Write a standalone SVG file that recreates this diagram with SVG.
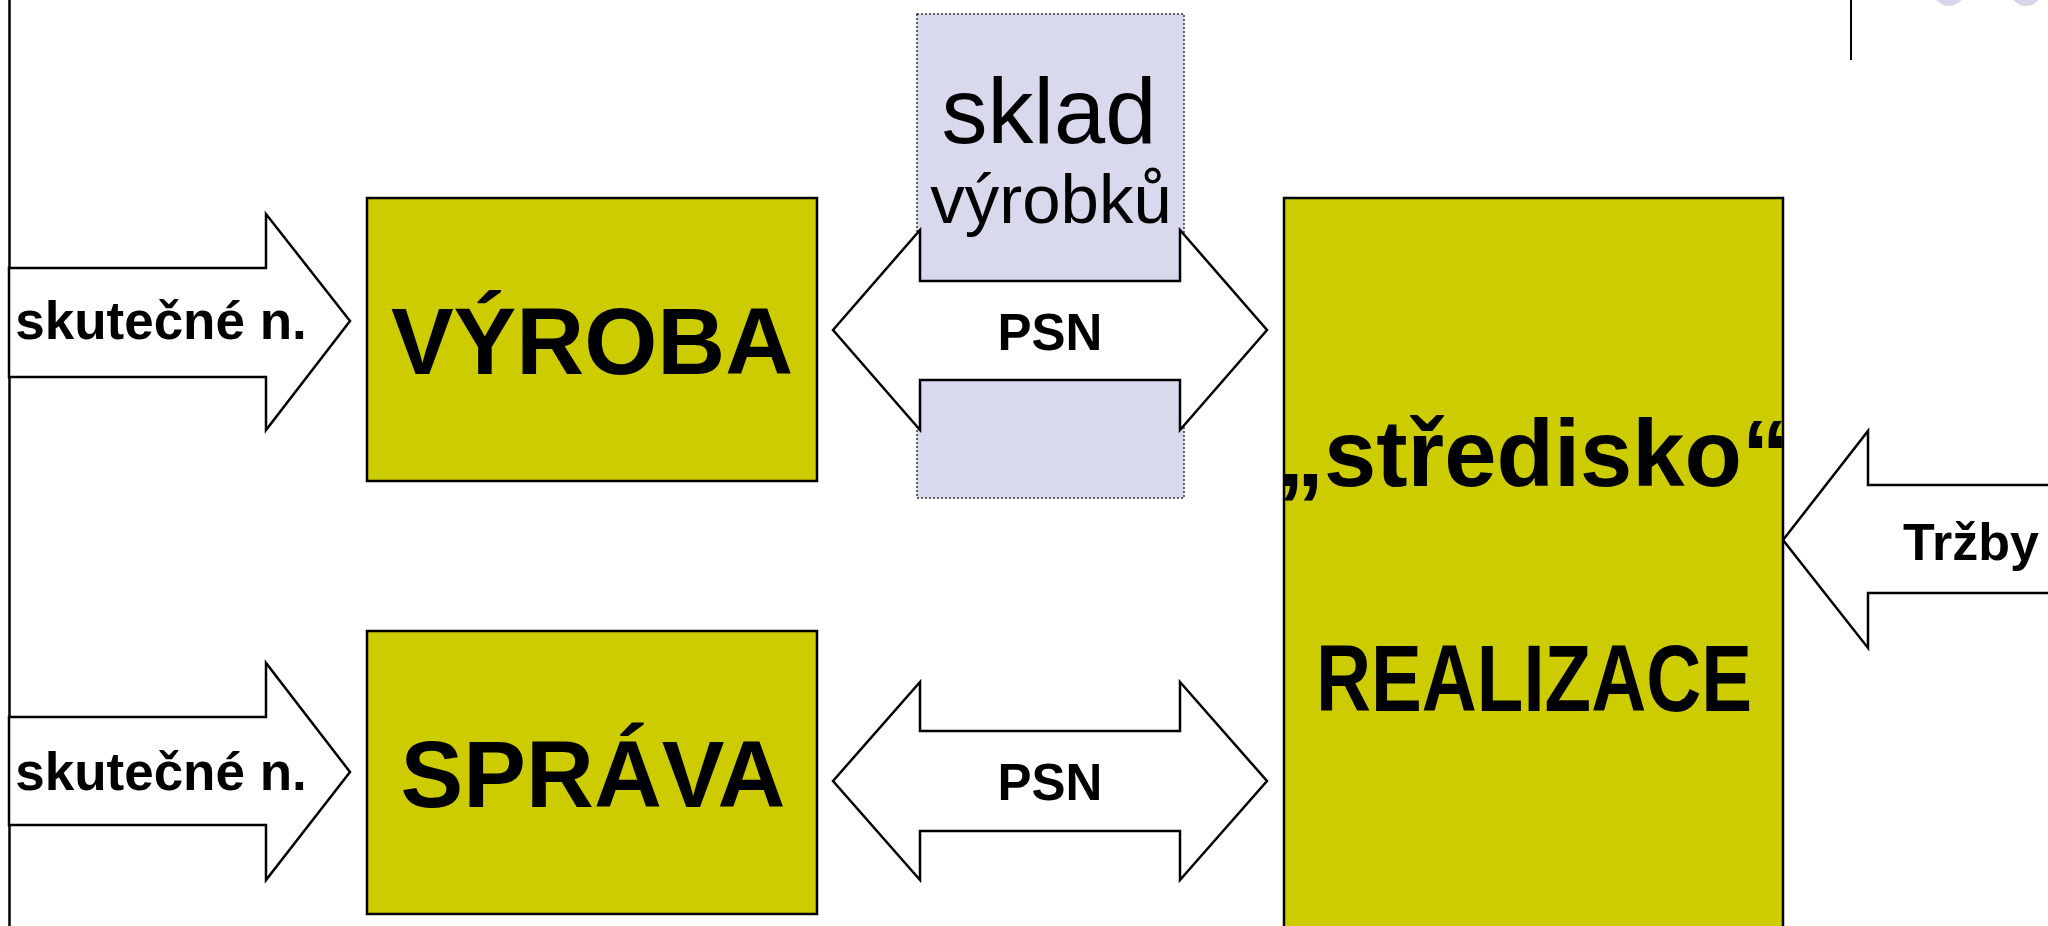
<svg xmlns="http://www.w3.org/2000/svg" width="2048" height="926" viewBox="0 0 2048 926">
<style>
.box{fill:#cccc00;stroke:#000;stroke-width:2.5}
.arr{fill:#fff;stroke:#000;stroke-width:2.5;stroke-linejoin:miter}
.sk{fill:#d8d9ec;stroke:#333;stroke-width:1.5;stroke-dasharray:2 2}
.b{font-family:"Liberation Sans",Arial,sans-serif;font-weight:bold;fill:#000}
.n{font-family:"Liberation Sans",Arial,sans-serif;fill:#000}
</style>
<defs>
<clipPath id="realClip"><rect x="1284" y="198" width="499" height="740"/></clipPath>
</defs>
<rect x="0" y="0" width="2048" height="926" fill="#fff"/>
<g id="decor">
<line x1="9.5" y1="0" x2="9.5" y2="926" stroke="#000" stroke-width="2.5"/>
<line x1="1851" y1="0" x2="1851" y2="60" stroke="#000" stroke-width="2"/>
<circle cx="1949" cy="-10" r="16" fill="#d6d6ea"/>
<circle cx="2026" cy="-10" r="16" fill="#d6d6ea"/>
</g>
<g id="sklad">
<rect class="sk" x="917" y="14" width="267" height="484"/>
<text class="n" x="1049" y="143" font-size="92" text-anchor="middle">sklad</text>
<text class="n" x="1051" y="223" font-size="69" text-anchor="middle">výrobků</text>
</g>
<g id="connectors">
<g id="arrow-skut1">
<polygon class="arr" points="9,268 266,268 266,214 350,321 266,430 266,377 9,377"/>
<text class="b" x="161" y="339" font-size="53" text-anchor="middle">skutečné n.</text>
</g>
<g id="arrow-skut2">
<polygon class="arr" points="9,717 266,717 266,663 350,772 266,880 266,825 9,825"/>
<text class="b" x="161" y="790" font-size="53" text-anchor="middle">skutečné n.</text>
</g>
<g id="arrow-psn1">
<polygon class="arr" points="833,330 920,230 920,281 1180,281 1180,230 1267,330 1180,430 1180,380 920,380 920,430"/>
<text class="b" x="1050" y="350" font-size="51" text-anchor="middle">PSN</text>
</g>
<g id="arrow-psn2">
<polygon class="arr" points="833,781 920,682 920,731 1180,731 1180,682 1267,781 1180,880 1180,831 920,831 920,880"/>
<text class="b" x="1050" y="800" font-size="51" text-anchor="middle">PSN</text>
</g>
<g id="arrow-trzby">
<polygon class="arr" points="1783,540 1868,431 1868,485 2060,485 2060,593 1868,593 1868,648"/>
<text class="b" x="1903" y="560" font-size="52">Tržby</text>
</g>
</g>
<g id="vyroba">
<rect class="box" x="367" y="198" width="450" height="283"/>
<text class="b" x="592" y="374" font-size="94" text-anchor="middle">VÝROBA</text>
</g>
<g id="sprava">
<rect class="box" x="367" y="631" width="450" height="283"/>
<text class="b" x="593" y="807" font-size="94" text-anchor="middle">SPRÁVA</text>
</g>
<g id="realizace">
<rect class="box" x="1284" y="198" width="499" height="740"/>
<g clip-path="url(#realClip)">
<text class="b" x="1533" y="486" font-size="94" text-anchor="middle">„středisko“</text>
</g>
<text class="b" x="1534" y="711" font-size="95" text-anchor="middle" textLength="436" lengthAdjust="spacingAndGlyphs">REALIZACE</text>
</g>
</svg>
